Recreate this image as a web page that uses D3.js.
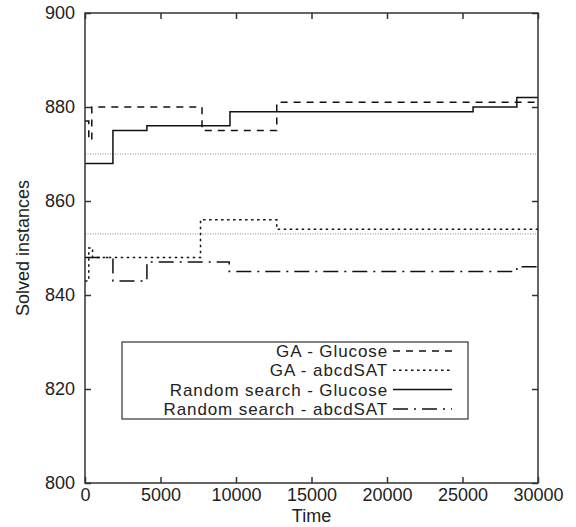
<!DOCTYPE html>
<html>
<head>
<meta charset="utf-8">
<script src="https://cdn.jsdelivr.net/npm/d3@7"></script>
<style>
  body { margin: 0; background: #fff; }
  svg text { font-family: "Liberation Sans", Arial, sans-serif; fill: #222; }
</style>
</head>
<body>
<svg width="576" height="527"></svg>
<script>
// step series
var gaGlucoseTime = [0, 250, 450, 7750, 12700, 30000];
var gaGlucose     = [877, 873, 880, 875, 881, 881];
var gaAbcdTime    = [0, 250, 500, 7650, 12700, 30000];
var gaAbcd        = [843, 850, 848, 856, 854, 854];
var rsGlucoseTime = [0, 1850, 4100, 9600, 25700, 28600, 30000];
var rsGlucose     = [868, 875, 876, 879, 880, 882, 882];
var rsAbcdTime    = [0, 1850, 4100, 9550, 28600, 30000];
var rsAbcd        = [848, 843, 847, 845, 846, 846];
var baselines     = [870, 853];

var xTicks = [0, 5000, 10000, 15000, 20000, 25000, 30000];
var yTicks = [800, 820, 840, 860, 880, 900];
var legendNames = ["GA - Glucose", "GA - abcdSAT", "Random search - Glucose", "Random search - abcdSAT"];

var margin = {left: 85, top: 13, right: 38, bottom: 44};
var width = 576, height = 527;

var x = d3.scaleLinear().domain([0, 30000]).range([margin.left, width - margin.right]);
var y = d3.scaleLinear().domain([800, 900]).range([height - margin.bottom, margin.top]);

var svg = d3.select('svg');

function zip(ts, vs) {
  return ts.map(function (t, i) { return {t: t, v: vs[i]}; });
}

var line = d3.line()
  .x(function (d) { return x(d.t); })
  .y(function (d) { return y(d.v); })
  .curve(d3.curveStepAfter);

// baseline dotted lines
svg.selectAll('line.base')
  .data(baselines)
  .enter()
  .append('line')
  .attr('class', 'base')
  .attr('x1', x(0)).attr('x2', x(30000))
  .attr('y1', function (d) { return y(d); })
  .attr('y2', function (d) { return y(d); })
  .attr('stroke', '#888')
  .attr('stroke-width', 1)
  .attr('stroke-dasharray', '1,1.5');

var series = [
  {data: zip(gaGlucoseTime, gaGlucose), dash: '7,6'},
  {data: zip(gaAbcdTime, gaAbcd), dash: '2.5,3.5'},
  {data: zip(rsGlucoseTime, rsGlucose), dash: null},
  {data: zip(rsAbcdTime, rsAbcd), dash: '15,6,2,6'}
];

svg.selectAll('path.series')
  .data(series)
  .enter()
  .append('path')
  .attr('class', 'series')
  .attr('d', function (s) { return line(s.data); })
  .attr('fill', 'none')
  .attr('stroke', '#111')
  .attr('stroke-width', 1.5)
  .attr('stroke-dasharray', function (s) { return s.dash; });

// axes with inward ticks on all sides
var axB = svg.append('g')
  .attr('transform', 'translate(0,' + y(800) + ')')
  .call(d3.axisBottom(x).tickValues(xTicks).tickSize(-6).tickPadding(5).tickFormat(d3.format('d')));
var axT = svg.append('g')
  .attr('transform', 'translate(0,' + y(900) + ')')
  .call(d3.axisTop(x).tickValues(xTicks).tickSize(-6).tickFormat(''));
var axL = svg.append('g')
  .attr('transform', 'translate(' + x(0) + ',0)')
  .call(d3.axisLeft(y).tickValues(yTicks).tickSize(-6).tickPadding(10));
var axR = svg.append('g')
  .attr('transform', 'translate(' + x(30000) + ',0)')
  .call(d3.axisRight(y).tickValues(yTicks).tickSize(-6).tickFormat(''));

[axB, axT, axL, axR].forEach(function (a) {
  a.select('.domain').remove();
  a.selectAll('.tick line').attr('stroke', '#333').attr('stroke-width', 1.5);
  a.selectAll('text').style('font-size', '18px').attr('fill', '#222');
});

svg.append('rect')
  .attr('x', x(0)).attr('y', y(900))
  .attr('width', x(30000) - x(0)).attr('height', y(800) - y(900))
  .attr('fill', 'none')
  .attr('stroke', '#333')
  .attr('stroke-width', 1.5);

svg.append('text')
  .attr('transform', 'rotate(-90)')
  .attr('x', -(y(850)))
  .attr('y', 23)
  .attr('dy', '0.35em')
  .style('text-anchor', 'middle')
  .style('font-size', '18px')
  .text('Solved instances');

svg.append('text')
  .attr('x', (x(0) + x(30000)) / 2)
  .attr('y', 516)
  .attr('dy', '0.35em')
  .style('text-anchor', 'middle')
  .style('font-size', '18px')
  .text('Time');

// legend
var legend = svg.append('g');
legend.append('rect')
  .attr('x', 122).attr('y', 342)
  .attr('width', 346).attr('height', 77)
  .attr('fill', '#fff')
  .attr('stroke', '#333')
  .attr('stroke-width', 1.2);

var rows = legend.selectAll('g.row')
  .data(series)
  .enter()
  .append('g')
  .attr('class', 'row')
  .attr('transform', function (d, i) { return 'translate(0,' + (351 + i * 19.3) + ')'; });

rows.append('text')
  .attr('x', 388)
  .attr('dy', '0.35em')
  .style('text-anchor', 'end')
  .style('font-size', '17px')
  .style('letter-spacing', '0.9px')
  .text(function (d, i) { return legendNames[i]; });

rows.append('line')
  .attr('x1', 393).attr('x2', 452)
  .attr('y1', 0).attr('y2', 0)
  .attr('stroke', '#111')
  .attr('stroke-width', 1.5)
  .attr('stroke-dasharray', function (s) { return s.dash; });
</script>
</body>
</html>
